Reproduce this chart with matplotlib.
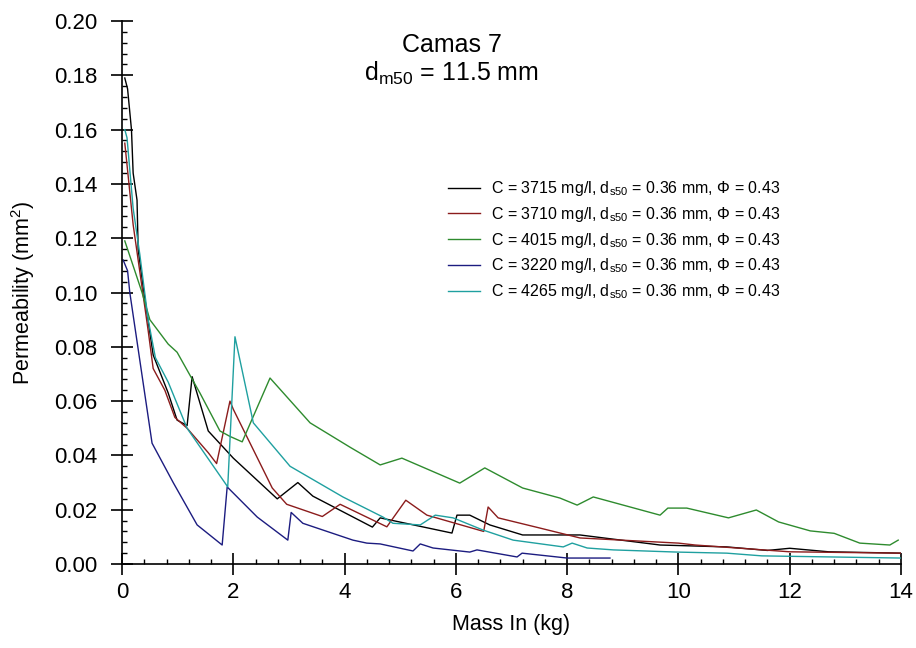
import matplotlib
matplotlib.use("Agg")
import matplotlib.pyplot as plt
from matplotlib.ticker import MultipleLocator, FormatStrFormatter

plt.rcParams['font.family'] = ['Liberation Sans', 'DejaVu Sans']
plt.rcParams['mathtext.fontset'] = 'custom'
plt.rcParams['mathtext.rm'] = 'Liberation Sans'
plt.rcParams['mathtext.it'] = 'Liberation Sans'

# Permeability vs. cumulative mass of fines introduced, five runs
x_3715 = [0.05, 0.10, 0.17, 0.20, 0.27, 0.29, 0.38, 0.56, 0.83, 0.99, 1.17, 1.26, 1.55, 2.00, 2.79,
          3.16, 3.43, 4.50, 4.64, 5.93, 6.02, 6.25, 6.61, 7.20, 8.23, 9.67, 10.87, 11.60, 12.00,
          12.70, 14.00]
y_3715 = [0.179, 0.175, 0.160, 0.144, 0.134, 0.116, 0.102, 0.077, 0.063, 0.053, 0.051, 0.069, 0.049,
          0.039, 0.024, 0.030, 0.025, 0.0136, 0.017, 0.0114, 0.018, 0.018, 0.0144, 0.0107, 0.0107,
          0.007, 0.0063, 0.005, 0.0058, 0.0045, 0.004]

x_3710 = [0.05, 0.20, 0.47, 0.56, 0.77, 0.95, 1.17, 1.55, 1.70, 1.94, 2.00, 2.70, 2.96, 3.60, 3.92,
          4.76, 5.10, 5.48, 6.50, 6.58, 6.76, 7.50, 8.23, 10.00, 10.30, 12.00, 14.00]
y_3710 = [0.155, 0.125, 0.086, 0.072, 0.064, 0.054, 0.050, 0.041, 0.037, 0.060, 0.057, 0.028, 0.022,
          0.0175, 0.022, 0.0137, 0.0235, 0.018, 0.012, 0.021, 0.017, 0.0133, 0.0096, 0.0077, 0.007,
          0.0045, 0.004]

x_4015 = [0.05, 0.23, 0.36, 0.50, 0.83, 0.99, 1.40, 1.76, 1.94, 2.16, 2.66, 3.38, 4.10, 4.64, 5.03,
          6.07, 6.52, 7.20, 7.87, 8.18, 8.47, 9.67, 9.81, 10.15, 10.90, 11.40, 11.80, 12.37, 12.80,
          13.26, 13.80, 13.95]
y_4015 = [0.119, 0.108, 0.100, 0.090, 0.081, 0.078, 0.063, 0.049, 0.047, 0.045, 0.0685, 0.052, 0.043,
          0.0365, 0.039, 0.0298, 0.0354, 0.028, 0.0243, 0.0217, 0.0247, 0.018, 0.0206, 0.0206, 0.017,
          0.0199, 0.0155, 0.0122, 0.0113, 0.0077, 0.007, 0.0088]

x_3220 = [0.02, 0.10, 0.14, 0.54, 0.92, 1.35, 1.80, 1.89, 2.43, 2.98, 3.04, 3.25, 4.15, 4.40, 4.64,
          5.23, 5.36, 5.59, 6.25, 6.38, 7.10, 7.19, 8.00, 8.40, 8.77]
y_3220 = [0.112, 0.108, 0.100, 0.0445, 0.030, 0.0144, 0.0070, 0.0284, 0.0173, 0.0088, 0.019, 0.015,
          0.0088, 0.0077, 0.0074, 0.0048, 0.0074, 0.0059, 0.0044, 0.0052, 0.0026, 0.004, 0.0022,
          0.0022, 0.0022]

x_4265 = [0.05, 0.09, 0.20, 0.32, 0.47, 0.60, 0.83, 1.17, 1.90, 2.03, 2.36, 3.02, 3.97, 4.69, 4.87,
          5.36, 5.63, 5.95, 6.49, 7.03, 7.93, 8.09, 8.36, 8.83, 9.97, 10.87, 11.50, 14.00]
y_4265 = [0.160, 0.157, 0.131, 0.114, 0.090, 0.076, 0.067, 0.050, 0.0284, 0.0837, 0.052, 0.036,
          0.0247, 0.0173, 0.015, 0.0144, 0.018, 0.017, 0.0125, 0.0088, 0.0063, 0.0077, 0.0059,
          0.0052, 0.0044, 0.004, 0.003, 0.0022]

series = [
    (x_3715, y_3715, '3715', '#000000'),
    (x_3710, y_3710, '3710', '#8b1c1c'),
    (x_4015, y_4015, '4015', '#2e8b2e'),
    (x_3220, y_3220, '3220', '#1c1c80'),
    (x_4265, y_4265, '4265', '#1fa0a0'),
]

fig = plt.figure(figsize=(9.16, 6.48), dpi=100)
ax = fig.add_axes([0.1332, 0.1296, 0.8504, 0.838])

for xs, ys, conc, col in series:
    ax.plot(xs, ys, color=col, lw=1.0,
            label=r'C = %s mg/l, d$_{\rm s50}$ = 0.36 mm, $\Phi$ = 0.43' % conc)

ax.set_xlim(0, 14)
ax.set_ylim(0, 0.20)
ax.xaxis.set_major_locator(MultipleLocator(2))
ax.xaxis.set_minor_locator(MultipleLocator(0.4))
ax.yaxis.set_major_locator(MultipleLocator(0.02))
ax.yaxis.set_minor_locator(MultipleLocator(0.004))
ax.yaxis.set_major_formatter(FormatStrFormatter('%.2f'))

for s in ('top', 'right'):
    ax.spines[s].set_visible(False)
for s in ('left', 'bottom'):
    ax.spines[s].set_linewidth(1.2)

ax.tick_params(which='major', direction='inout', length=16, width=1.2, labelsize=16)
ax.tick_params(axis='y', which='major', pad=10)
ax.tick_params(axis='x', which='major', pad=5)
ax.tick_params(which='minor', direction='in', length=3.5, width=1.0)

ax.set_xlabel('Mass In (kg)', fontsize=15.5, labelpad=8)
ax.set_ylabel(r'Permeability (mm$^2$)', fontsize=15.5, labelpad=12)

ax.text(0.423, 0.955, 'Camas 7', transform=ax.transAxes, ha='center', va='center', fontsize=18)
ax.text(0.423, 0.903, r'd$_{\rm m50}$ = 11.5 mm', transform=ax.transAxes, ha='center',
        va='center', fontsize=18)

ax.legend(loc='upper left', bbox_to_anchor=(0.40, 0.735), frameon=False, fontsize=11.5,
          handlelength=2.0, handletextpad=0.7, labelspacing=0.42)

fig.savefig('out.png', dpi=100)
